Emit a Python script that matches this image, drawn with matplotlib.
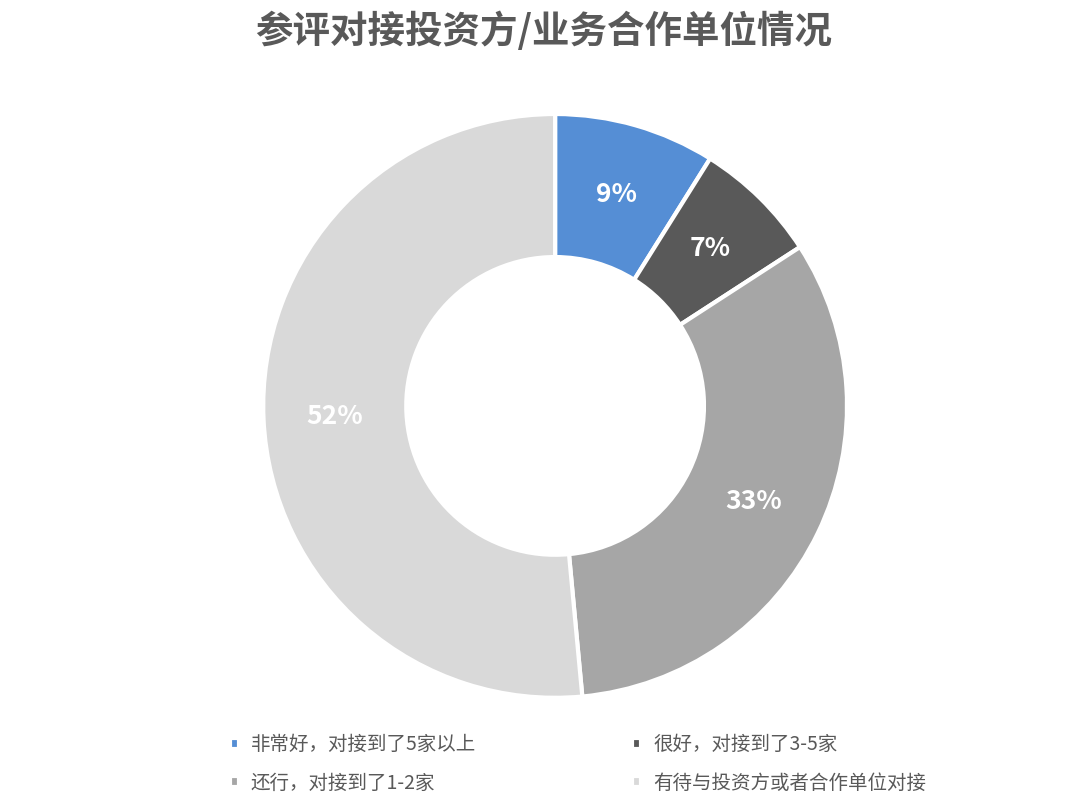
import matplotlib
matplotlib.use("Agg")
import matplotlib.pyplot as plt
import numpy as np

plt.rcParams['font.family'] = ['Noto Sans CJK SC', 'DejaVu Sans']

labels = ["非常好，对接到了5家以上", "很好，对接到了3-5家", "还行，对接到了1-2家", "有待与投资方或者合作单位对接"]
values = [9, 7, 33, 52]
pct_text = ["9%", "7%", "33%", "52%"]
colors = ["#558ED5", "#595959", "#A6A6A6", "#D9D9D9"]

fig = plt.figure(figsize=(10.8, 8.11), dpi=100)
ax = fig.add_axes([0.241, 0.136, 0.546, 0.727])
wedges, _ = ax.pie(values, colors=colors, startangle=90, counterclock=False,
                   radius=1.0, wedgeprops=dict(width=0.49, edgecolor='white', linewidth=3))
ax.set_xlim(-1.01, 1.01)
ax.set_ylim(-1.01, 1.01)
ax.set_aspect('equal')
total = sum(values)
cum = 0
for v, t in zip(values, pct_text):
    mid = 90 - (cum + v / 2) / total * 360
    cum += v
    r = 0.755
    ax.text(r * np.cos(np.radians(mid)), r * np.sin(np.radians(mid)), t,
            ha='center', va='center', color='white', fontsize=19, fontweight='bold')

fig.text(0.503, 0.962, "参评对接投资方/业务合作单位情况", ha='center', va='center',
         fontsize=27, color='#595959', fontweight='bold')

order = [0, 2, 1, 3]
leg = fig.legend([wedges[i] for i in order], [labels[i] for i in order], ncol=2,
                 loc='center', bbox_to_anchor=(0.535, 0.058),
                 frameon=False, fontsize=14, handlelength=0.5, handleheight=0.5,
                 columnspacing=8.0, labelspacing=0.9, handletextpad=0.6)
for t in leg.get_texts():
    t.set_color('#595959')

fig.savefig("out.png", dpi=100)
